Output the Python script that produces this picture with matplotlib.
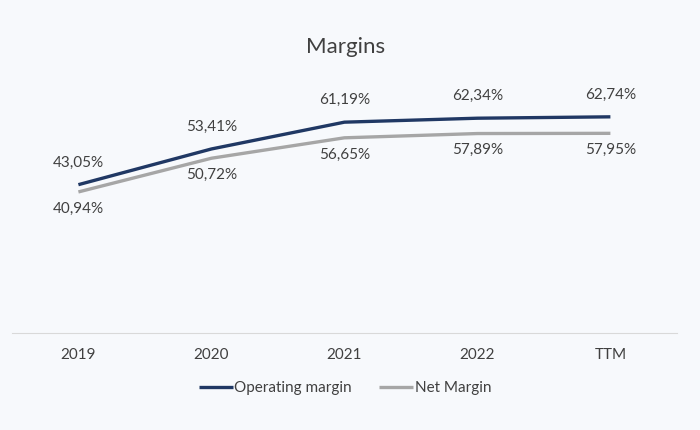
import matplotlib.pyplot as plt

plt.rcParams['font.family'] = ['Lato', 'DejaVu Sans']

categories = ["2019", "2020", "2021", "2022", "TTM"]
operating = [43.05, 53.41, 61.19, 62.34, 62.74]
net = [40.94, 50.72, 56.65, 57.89, 57.95]

bg = "#F7F9FC"
navy = "#203864"
grey = "#A6A6A6"
txt = "#404040"

fig = plt.figure(figsize=(7, 4.3), dpi=100, facecolor=bg)
ax = fig.add_axes([0.017, 0.2256, 0.95, 0.641])
ax.set_facecolor(bg)

x = range(len(categories))
ax.plot(x, operating, color=navy, lw=2.4, label="Operating margin", solid_capstyle="butt")
ax.plot(x, net, color=grey, lw=2.4, label="Net Margin", solid_capstyle="butt")

def fmt(v):
    return f"{v:.2f}%".replace(".", ",")

for i, v in enumerate(operating):
    ax.annotate(fmt(v), (i, v), xytext=(0, 16), textcoords="offset points",
                ha="center", va="center", fontsize=11, color=txt)
for i, v in enumerate(net):
    ax.annotate(fmt(v), (i, v), xytext=(0, -12), textcoords="offset points",
                ha="center", va="center", fontsize=11, color=txt)

ax.set_xlim(-0.5, len(categories) - 0.5)
ax.set_ylim(0, 80)
ax.set_xticks(list(x))
ax.set_xticklabels(categories, fontsize=11, color=txt)
ax.set_yticks([])
ax.tick_params(axis="x", length=0, pad=11)
for s in ["top", "right", "left"]:
    ax.spines[s].set_visible(False)
ax.spines["bottom"].set_color("#D9D9D9")

fig.text(0.493, 0.891, "Margins", ha="center", va="center", fontsize=16, color=txt)

leg = fig.legend(loc="center", bbox_to_anchor=(0.493, 0.098), ncol=2, frameon=False,
                 fontsize=11, handlelength=2.2, handletextpad=0.1, columnspacing=1.8)
for t in leg.get_texts():
    t.set_color(txt)

plt.savefig("out.png", dpi=100, facecolor=bg)
